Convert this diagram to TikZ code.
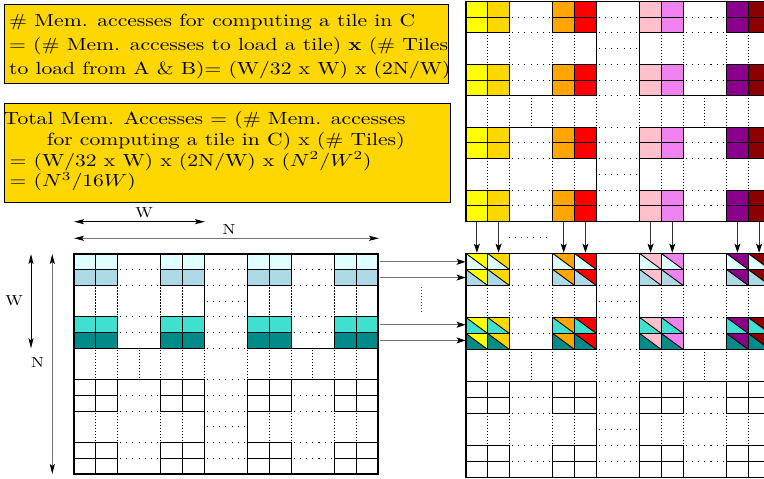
\documentclass[tikz,border=0pt]{standalone}
\usetikzlibrary{arrows.meta}
\definecolor{clc}{HTML}{E0FFFF}
\definecolor{clb}{HTML}{ADD8E6}
\definecolor{ctq}{HTML}{40E0D0}
\definecolor{cteal}{HTML}{008B8B}
\definecolor{cyel}{HTML}{FFFF00}
\definecolor{cgold}{HTML}{FFD700}
\definecolor{corange}{HTML}{FFA500}
\definecolor{cred}{HTML}{FF0000}
\definecolor{cpink}{HTML}{FFC0CB}
\definecolor{cviolet}{HTML}{EE82EE}
\definecolor{cpurple}{HTML}{8B008B}
\definecolor{cdred}{HTML}{8B0000}
\definecolor{boxfill}{HTML}{FFD700}
\tikzset{
  cellline/.style={line width=0.9pt, draw=black},
  tileline/.style={line width=1.4pt, draw=black},
  outerline/.style={line width=1.8pt, draw=black},
  dotH/.style={line width=1.1pt, dash pattern=on 1.1pt off 5.1pt, shorten <=2.5pt, shorten >=2pt},
  dotV/.style={line width=1.1pt, dash pattern=on 1.1pt off 1.9pt, shorten <=2pt, shorten >=2pt},
  conn/.style={line width=0.9pt, draw=black!55, -{Stealth[black,length=9pt,width=6pt,inset=2pt]}},
  dimW/.style={line width=1pt, {Stealth[length=10pt,width=5pt,inset=2pt]}-{Stealth[length=10pt,width=5pt,inset=2pt]}},
  dimN/.style={line width=0.8pt, draw=black!55, {Stealth[black,length=10pt,width=5pt,inset=2pt]}-{Stealth[black,length=10pt,width=5pt,inset=2pt]}},
  infobox/.style={draw=black, line width=1pt, fill=boxfill},
  dimlabel/.style={inner sep=0pt},
}
\newcommand{\matskel}{%
  \foreach \tx in {0,8}{\foreach \ty in {0,8}{%
    \foreach \bx in {0,4}{\foreach \by in {0,4}{%
      \draw[cellline] (\tx+\bx,\ty+\by) rectangle ++(2,2);
      \draw[cellline] (\tx+\bx+1,\ty+\by) -- ++(0,2);
      \draw[cellline] (\tx+\bx,\ty+\by+1) -- ++(2,0);
    }}%
    \foreach \k in {1,2,4,5}{%
      \draw[dotH] (\tx+2,\ty+\k) -- ++(2,0);
      \draw[dotV] (\tx+\k,\ty+2) -- ++(0,2);
    }%
    \draw[tileline] (\tx,\ty) rectangle ++(6,6);
  }}%
  \foreach \k in {1,2,3,4,5,6,8,9,10,11,12,13}{%
    \draw[dotH] (6,\k) -- ++(2,0);
    \draw[dotV] (\k,6) -- ++(0,2);
  }%
  \draw[outerline] (0,0) rectangle (14,14);
}
\begin{document}
\begin{tikzpicture}[x=1pt,y=-1pt]
\useasboundingbox (0,0) rectangle (764,479);
\fill[white] (0,0) rectangle (764,479);
\clip (0,0) rectangle (764,479);

% ---------- info boxes ----------
\node[infobox, anchor=north west, minimum width=444pt, minimum height=78.5pt, inner sep=0pt] (box1) at (4,4) {};
\node[anchor=north west, inner sep=0pt] (t1) at (9,9.2) {\scalebox{2.16}[1.76]{\fontsize{10}{13.6}\selectfont\begin{tabular}{@{}l@{}}\# Mem. accesses for computing a tile in C\\= (\# Mem. accesses to load a tile) \textbf{x} (\# Tiles\\to load from A \& B)= (W/32 x W) x (2N/W)\end{tabular}}};

\node[infobox, anchor=north west, minimum width=446.5pt, minimum height=99pt, inner sep=0pt] (box2) at (3.5,103) {};
\node[anchor=north west, inner sep=0pt] (t2) at (3.5,109.8) {\scalebox{2.16}[1.76]{\fontsize{10}{11.8}\selectfont\begin{tabular}{@{}l@{}}Total Mem. Accesses = (\# Mem. accesses\\\hspace*{20pt}for computing a tile in C) x (\# Tiles)\\\hspace*{2.8pt}= (W/32 x W) x (2N/W) x ($N^2/W^2$)\\\hspace*{2.8pt}= ($N^3/16W$)\end{tabular}}};

% ---------- matrix A ----------
\begin{scope}[shift={(74,254)}, x=21.714pt, y=-15.714pt]
  \foreach \r/\rc in {0/clc,1/clb,4/ctq,5/cteal}{%
    \foreach \c in {0,1,4,5,8,9,12,13}{\fill[\rc] (\c,\r) rectangle ++(1,1);}}
  \matskel
  \foreach \r in {0,1,4,5}{\coordinate (Ar\r) at (14.1,\r+0.5);}
\end{scope}

% ---------- matrix B ----------
\begin{scope}[shift={(466,1.5)}, x=21.714pt, y=-15.714pt]
  \foreach \c/\cc in {0/cyel,1/cgold,4/corange,5/cred,8/cpink,9/cviolet,12/cpurple,13/cdred}{%
    \foreach \r in {0,1,4,5,8,9,12,13}{\fill[\cc] (\c,\r) rectangle ++(1,1);}}
  \matskel
  \foreach \c in {0,1,4,5,8,9,12,13}{\coordinate (Bb\c) at (\c+0.5,14.05);}
\end{scope}

% ---------- matrix C ----------
\begin{scope}[shift={(466,253.5)}, x=21.714pt, y=-16pt]
  \foreach \r/\rc in {0/clc,1/clb,4/ctq,5/cteal}{%
    \foreach \c/\cc in {0/cyel,1/cgold,4/corange,5/cred,8/cpink,9/cviolet,12/cpurple,13/cdred}{%
      \fill[\rc] (\c,\r) -- (\c,\r+1) -- (\c+1,\r+1) -- cycle;
      \fill[\cc] (\c,\r) -- (\c+1,\r) -- (\c+1,\r+1) -- cycle;
      \draw[line width=0.9pt] (\c,\r) -- (\c+1,\r+1);
    }}
  \matskel
  \foreach \r in {0,1,4,5}{\coordinate (Cl\r) at (-0.02,\r+0.5);}
  \foreach \c in {0,1,4,5,8,9,12,13}{\coordinate (Ct\c) at (\c+0.5,-0.05);}
\end{scope}

% ---------- connectors ----------
\foreach \r in {0,1,4,5}{\draw[conn] (Ar\r) -- (Ar\r -| Cl\r);}
\foreach \c in {0,1,4,5,8,9,12,13}{\draw[conn, draw=black!80] (Bb\c) -- (Ct\c);}
\coordinate (sepA1) at (421.7,285);
\coordinate (sepA2) at (421.7,315);
\draw[dotV, draw=black!70] (sepA1) -- (sepA2);
\coordinate (sepB1) at (506,237.7);
\coordinate (sepB2) at (552,237.7);
\draw[dotH, draw=black!70] (sepB1) -- (sepB2);

% ---------- dimensions ----------
\coordinate (dW1a) at (74,221.7);  \coordinate (dW1b) at (205,221.7);
\coordinate (dN1a) at (74,238.3);  \coordinate (dN1b) at (379,238.3);
\coordinate (dW2a) at (31,254);    \coordinate (dW2b) at (31,348.3);
\coordinate (dN2a) at (52.3,254);  \coordinate (dN2b) at (52.3,474);
\draw[dimW] (dW1a) -- (dW1b);
\draw[dimN] (dN1a) -- (dN1b);
\draw[dimW] (dW2a) -- (dW2b);
\draw[dimN] (dN2a) -- (dN2b);
\node[dimlabel] (lW1) at (144,213) {\scalebox{1.7}[1.45]{W}};
\node[dimlabel] (lN1) at (229,229.5) {\scalebox{1.7}[1.45]{N}};
\node[dimlabel] (lW2) at (14,300.5) {\scalebox{1.7}[1.45]{W}};
\node[dimlabel] (lN2) at (37.5,363) {\scalebox{1.7}[1.45]{N}};
\end{tikzpicture}
\end{document}
